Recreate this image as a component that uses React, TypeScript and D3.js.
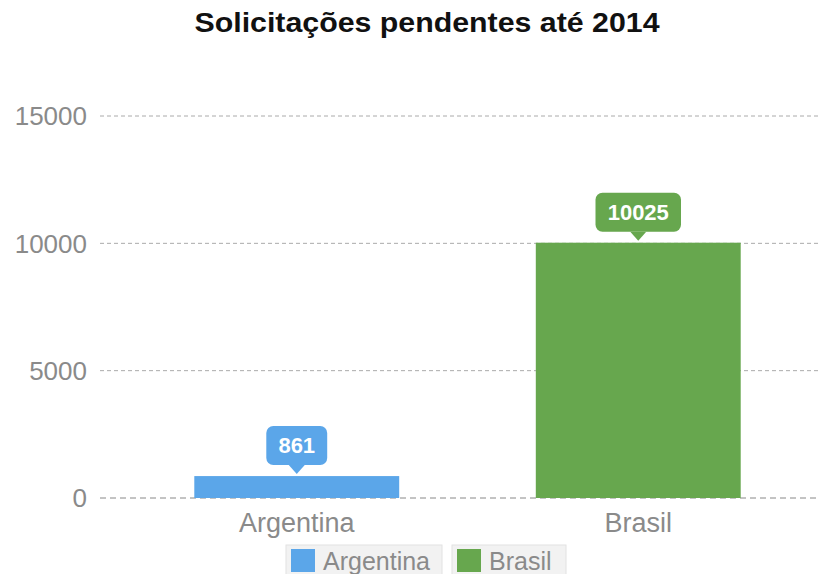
import React from "react";
import * as d3 from "d3";

const categories = ["Argentina", "Brasil"];
const values = [861, 10025];
const colors = ["#5ba6e9", "#67a74e"];
const yTicks = [0, 5000, 10000, 15000];
const title = "Solicitações pendentes até 2014";

export default function App() {
  const W = 820, H = 574;
  const y = d3.scaleLinear().domain([0, 15000]).range([498, 116]);
  const x = d3.scaleBand<string>().domain(categories).range([126, 809]).paddingInner(0.4).paddingOuter(0.2);
  const font = "'Liberation Sans', Arial, sans-serif";
  const legendItems = [
    { x: 286, w: 156 },
    { x: 452, w: 114 },
  ];
  return (
    <svg width={W} height={H} style={{ position: "absolute", left: 0, top: 0 }} fontFamily={font}>
      <rect width={W} height={H} fill="#fff" />
      <text x={427} y={32} textAnchor="middle" fontSize={27} fontWeight="bold" fill="#111" textLength={465} lengthAdjust="spacingAndGlyphs">{title}</text>
      {yTicks.map((t) => (
        <g key={t}>
          <line x1={100} x2={820} y1={y(t)} y2={y(t)} stroke={t === 0 ? "#888" : "#aaa"} strokeDasharray={t === 0 ? "6,4" : "4,3"} strokeWidth={1} />
          <text x={87} y={y(t)} dy="0.36em" textAnchor="end" fontSize={26} fill="#8a8a8a">{t}</text>
        </g>
      ))}
      {categories.map((c, i) => {
        const bx = x(c)!;
        const bw = x.bandwidth();
        const top = y(values[i]);
        const cx = bx + bw / 2;
        const label = String(values[i]);
        const lw = label.length * 12.3 + 24;
        const lh = 39;
        const tipY = top - 2;
        const boxBottom = tipY - 9;
        return (
          <g key={c}>
            <rect x={bx} y={top} width={bw} height={y(0) - top} fill={colors[i]} />
            <rect x={cx - lw / 2} y={boxBottom - lh} width={lw} height={lh} rx={7} fill={colors[i]} />
            <path d={`M${cx - 8},${boxBottom} L${cx},${tipY} L${cx + 8},${boxBottom} Z`} fill={colors[i]} />
            <text x={cx} y={boxBottom - lh / 2} dy="0.36em" textAnchor="middle" fontSize={22} fontWeight="bold" fill="#fff">{label}</text>
            <text x={cx} y={522} dy="0.36em" textAnchor="middle" fontSize={27} fill="#8a8a8a">{c}</text>
          </g>
        );
      })}
      {categories.map((c, i) => (
        <g key={"lg" + c}>
          <rect x={legendItems[i].x} y={545} width={legendItems[i].w} height={30} fill="#f2f2f2" stroke="#e2e2e2" />
          <rect x={legendItems[i].x + 5} y={549} width={24} height={23} fill={colors[i]} />
          <text x={legendItems[i].x + 37} y={561} dy="0.36em" fontSize={25} fill="#8a8a8a">{c}</text>
        </g>
      ))}
    </svg>
  );
}
